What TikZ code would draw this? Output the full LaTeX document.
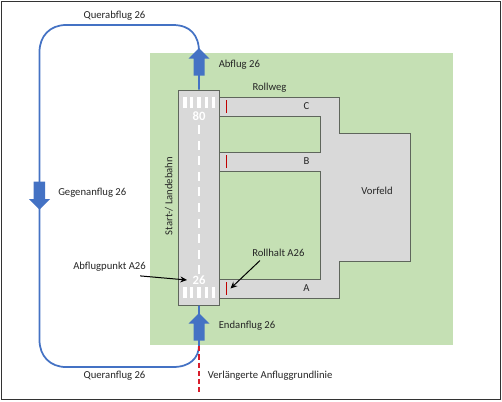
\documentclass[tikz,border=0pt]{standalone}
\usepackage{fontspec}
\setmainfont{Carlito}
\definecolor{grassgreen}{HTML}{C5E0B4}
\definecolor{paved}{HTML}{D9D9D9}
\definecolor{edgegrey}{HTML}{5F665C}
\definecolor{flightblue}{HTML}{4472C4}
\definecolor{holdred}{HTML}{C00000}
\definecolor{dashred}{HTML}{D81E2C}
\definecolor{labelgrey}{HTML}{262626}
\usetikzlibrary{arrows.meta}
\tikzset{
  px/.style={x=0.75pt,y=-0.75pt},
  lbl/.style={font=\fontsize{8pt}{9.5pt}\selectfont,text=labelgrey,inner sep=0pt},
  flight/.style={draw=flightblue,line width=1.3pt},
  blockarrow/.style={fill=flightblue,draw=none},
  mark line/.style={draw=holdred,line width=0.9pt},
  pointer/.style={draw=black,line width=0.75pt,-{Stealth[length=5pt,width=4.5pt]}},
  rwnum/.style={font=\fontsize{9.5pt}{10pt}\bfseries\selectfont,text=white,inner sep=0pt},
}
\begin{document}
\begin{tikzpicture}[px]
\useasboundingbox (0,0) rectangle (502,401);
\fill[white] (0,0) rectangle (502,401);
\draw[black!80,line width=0.9pt] (1.5,1.5) rectangle (500.5,399.5);
\fill[grassgreen] (150,53) rectangle (453,345);
% taxiways and apron
\filldraw[fill=paved,draw=edgegrey,line width=0.75pt]
  (219.5,97.5) -- (339.5,97.5) -- (339.5,133.5) -- (410.5,133.5) -- (410.5,261.5) -- (339.5,261.5)
  -- (339.5,298.5) -- (219.5,298.5) -- (219.5,279.5) -- (320.5,279.5) -- (320.5,171.5)
  -- (219.5,171.5) -- (219.5,152.5) -- (320.5,152.5) -- (320.5,116.5) -- (219.5,116.5) -- cycle;
% runway
\node[draw=edgegrey,fill=paved,line width=0.75pt,minimum width=30.75pt,minimum height=161.25pt,inner sep=0pt] (runway) at (199,197.5) {};
% threshold stripes
\foreach \x in {185,191.8,199,206.5,213.5}{
  \fill[white] (\x-1.6,97) rectangle (\x+1.6,108);
  \fill[white] (\x-1.6,287) rectangle (\x+1.6,298);
}
% centre line
\foreach \y in {125,140.6,156.2,171.8,187.4,203,218.6,234.2,249.8,265}{
  \fill[white] (197.6,\y) rectangle (200.4,\y+9);
}
\node[rwnum] (n80) at (199,116) {80};
\node[rwnum] (n26) at (199,280.5) {26};
% flight path
\draw[flight] (runway.north) -- (199,52) .. controls (199,35) and (190,25) .. (173,25) -- (66,25)
  .. controls (50,25) and (39.5,36) .. (39.5,52) -- (39.5,340)
  .. controls (39.5,356) and (50,367) .. (66,367) -- (173,367)
  .. controls (190,367) and (199,358) .. (199,345) -- (runway.south);
\draw[dashred,line width=1.2pt,dash pattern=on 4pt off 2.2pt] (199,346) -- (199,392);
% block arrows
\fill[blockarrow] (199,48) -- (209.5,58.5) -- (204.5,58.5) -- (204.5,75.5) -- (193.5,75.5) -- (193.5,58.5) -- (188.5,58.5) -- cycle;
\fill[blockarrow] (199,313) -- (209.5,323.5) -- (204.5,323.5) -- (204.5,340.5) -- (193.5,340.5) -- (193.5,323.5) -- (188.5,323.5) -- cycle;
\fill[blockarrow] (39.5,209.5) -- (29,199) -- (33.5,199) -- (33.5,181.5) -- (45,181.5) -- (45,199) -- (50,199) -- cycle;
% hold lines
\draw[mark line] (226.5,100) -- (226.5,113);
\draw[mark line] (226.5,155) -- (226.5,168);
\draw[mark line] (226.5,282) -- (226.5,295);
% labels
\node[lbl] (qab) at (114.5,15.5) {Querabflug 26};
\node[lbl] (qan) at (114.5,376) {Queranflug 26};
\node[lbl,anchor=west] (gegen) at (58,192.5) {Gegenanflug 26};
\node[lbl,anchor=west] (abfl) at (218.5,65) {Abflug 26};
\node[lbl,anchor=west] (endan) at (218.5,326) {Endanflug 26};
\node[lbl] (rollweg) at (269.5,88) {Rollweg};
\node[lbl] (tc) at (306.5,106) {C};
\node[lbl] (tb) at (306.5,161.5) {B};
\node[lbl] (ta) at (306.5,288.5) {A};
\node[lbl] (vorfeld) at (377,191) {Vorfeld};
\node[lbl,anchor=west] (rollhalt) at (252,252.5) {Rollhalt A26};
\node[lbl,anchor=west] (apunkt) at (73,267) {Abflugpunkt A26};
\node[lbl,anchor=west] (verl) at (207.5,375.5) {Verlängerte Anfluggrundlinie};
\node[lbl,rotate=90] (slb) at (169,196) {Start-/ Landebahn};
% pointers
\coordinate (phold) at (230.5,288.5);
\coordinate (ppoint) at (187,280);
\draw[pointer] (rollhalt.south west) ++(8,4) -- (phold);
\draw[pointer] (apunkt.south east) ++(-6,4) -- (ppoint);
\end{tikzpicture}
\end{document}
